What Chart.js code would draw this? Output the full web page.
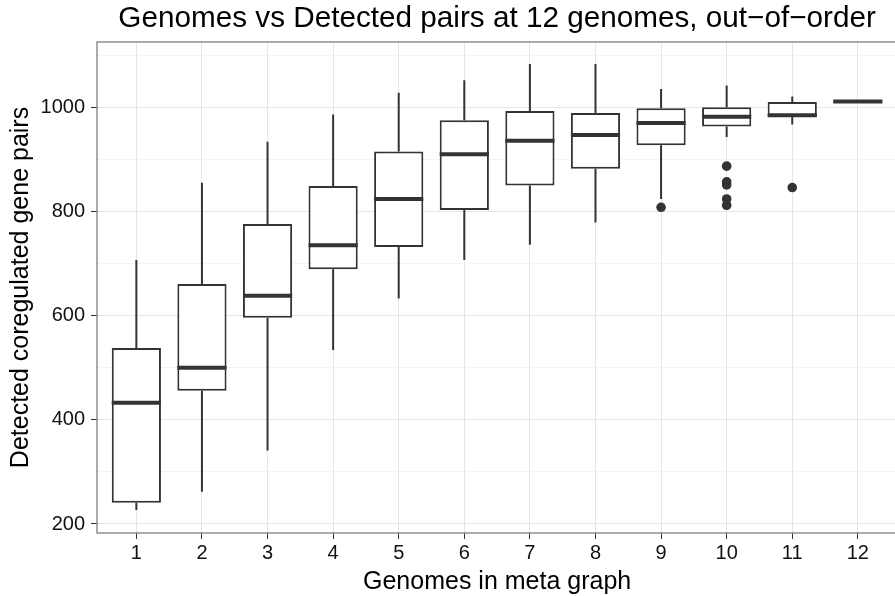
<!DOCTYPE html>
<html>
<head>
<meta charset="utf-8">
<title>Genomes vs Detected pairs</title>
<script src="https://cdn.jsdelivr.net/npm/chart.js@4.4.1/dist/chart.umd.min.js"></script>
<style>
    html, body { margin: 0; padding: 0; background: #fff; overflow: hidden; }
    #wrap { width: 895px; height: 596px; overflow: hidden; }
</style>
</head>
<body>
<div id="wrap"><canvas id="boxChart" width="902" height="596"></canvas></div>
<script>
// number of genomes in the meta graph (x categories)
const genomes = [1, 2, 3, 4, 5, 6, 7, 8, 9, 10, 11, 12];

// box statistics per category
const whiskerLow  = [227, 262, 341, 534, 633, 707, 736, 779, 824, 943, 967, 1011];
const quartile1   = [241, 456, 596, 689, 732, 803, 850, 882, 927, 963, 982, 1011];
const medians     = [433, 500, 638, 735, 824, 910, 936, 947, 970, 982, 985, 1011];
const quartile3   = [538, 661, 776, 849, 915, 975, 993, 989, 998, 1000, 1010, 1011];
const whiskerHigh = [707, 855, 934, 986, 1028, 1052, 1083, 1083, 1035, 1042, 1021, 1011];

// outliers
const outlierGenome = [9, 10, 10, 10, 10, 10, 11];
const outlierPairs  = [808, 887, 857, 851, 824, 812, 846];

const yTicks = [200, 400, 600, 800, 1000];
const yGrid = [200, 300, 400, 500, 600, 700, 800, 900, 1000, 1100];

const titleText = 'Genomes vs Detected pairs at 12 genomes, out\u2212of\u2212order';
const xTitle = 'Genomes in meta graph';
const yTitle = 'Detected coregulated gene pairs';

const FONT = '"Liberation Sans", Arial, Helvetica, sans-serif';
const INK = '#333333';

// whiskers and median bars on top of the floating bars
const boxParts = {
    id: 'boxParts',
    afterDatasetsDraw(chart) {
        const { ctx, scales: { x, y } } = chart;
        const bars = chart.getDatasetMeta(0).data;
        ctx.save();
        ctx.strokeStyle = INK;
        ctx.lineCap = 'butt';
        genomes.forEach((g, i) => {
            const cx = x.getPixelForValue(g);
            const half = bars[i].width / 2;
            ctx.lineWidth = 2;
            ctx.beginPath();
            ctx.moveTo(cx, y.getPixelForValue(quartile3[i]));
            ctx.lineTo(cx, y.getPixelForValue(whiskerHigh[i]));
            ctx.moveTo(cx, y.getPixelForValue(quartile1[i]));
            ctx.lineTo(cx, y.getPixelForValue(whiskerLow[i]));
            ctx.stroke();

            ctx.lineWidth = 4;
            const my = y.getPixelForValue(medians[i]);
            ctx.beginPath();
            ctx.moveTo(cx - half, my);
            ctx.lineTo(cx + half, my);
            ctx.stroke();
        });
        ctx.restore();
    }
};

// grey panel frame
const panelBorder = {
    id: 'panelBorder',
    beforeDatasetsDraw(chart) {
        const { ctx, chartArea: a } = chart;
        ctx.save();
        ctx.strokeStyle = '#7f7f7f';
        ctx.lineWidth = 1.3;
        ctx.strokeRect(a.left, a.top, a.right - a.left, a.bottom - a.top);
        ctx.restore();
    }
};

// plot title and axis titles
const titles = {
    id: 'titles',
    afterDraw(chart) {
        const { ctx, chartArea: a } = chart;
        const cx = (a.left + a.right) / 2;
        const cy = (a.top + a.bottom) / 2;
        ctx.save();
        ctx.fillStyle = '#000';
        ctx.textAlign = 'center';
        ctx.textBaseline = 'alphabetic';

        ctx.font = '29.7px ' + FONT;
        ctx.fillText(titleText, cx, 27);

        ctx.font = '25px ' + FONT;
        ctx.fillText(xTitle, cx, 589);

        ctx.translate(28, cy);
        ctx.rotate(-Math.PI / 2);
        ctx.fillText(yTitle, 0, 0);
        ctx.restore();
    }
};

new Chart(document.getElementById('boxChart'), {
    type: 'bar',
    data: {
        datasets: [{
            label: 'box',
            data: genomes.map((g, i) => ({ x: g, y: [quartile1[i], quartile3[i]] })),
            backgroundColor: '#ffffff',
            borderColor: INK,
            borderWidth: 2,
            borderSkipped: false,
            barPercentage: 0.75,
            categoryPercentage: 1
        }, {
            type: 'scatter',
            label: 'outliers',
            data: outlierGenome.map((g, i) => ({ x: g, y: outlierPairs[i] })),
            backgroundColor: INK,
            borderWidth: 0,
            pointRadius: 4.8
        }]
    },
    options: {
        responsive: false,
        animation: false,
        events: [],
        layout: { padding: { top: 42, left: 0, right: 0, bottom: 0 } },
        plugins: {
            legend: { display: false },
            tooltip: { enabled: false }
        },
        scales: {
            x: {
                type: 'linear',
                min: 0.4,
                max: 12.6,
                offset: false,
                afterBuildTicks: s => { s.ticks = genomes.map(v => ({ value: v })); },
                afterFit: s => { s.height = 63; },
                border: { display: false },
                grid: {
                    offset: false,
                    color: '#e6e6e6',
                    lineWidth: 1,
                    tickColor: INK,
                    tickLength: 6
                },
                ticks: {
                    autoSkip: false,
                    maxRotation: 0,
                    padding: 2,
                    color: '#111',
                    font: { family: FONT, size: 20 },
                    callback: v => String(v)
                }
            },
            y: {
                min: 182.7,
                max: 1125.4,
                afterBuildTicks: s => { s.ticks = yGrid.map(v => ({ value: v })); },
                afterFit: s => { s.width = 97; },
                border: { display: false },
                grid: {
                    color: c => yTicks.includes(c.tick.value) ? '#e6e6e6' : '#f4f4f4',
                    lineWidth: 1,
                    tickColor: c => yTicks.includes(c.tick.value) ? INK : 'rgba(0,0,0,0)',
                    tickLength: 6
                },
                ticks: {
                    padding: 6,
                    color: '#111',
                    font: { family: FONT, size: 20 },
                    callback: v => yTicks.includes(v) ? String(v) : ''
                }
            }
        }
    },
    plugins: [panelBorder, boxParts, titles]
});
</script>
</body>
</html>
